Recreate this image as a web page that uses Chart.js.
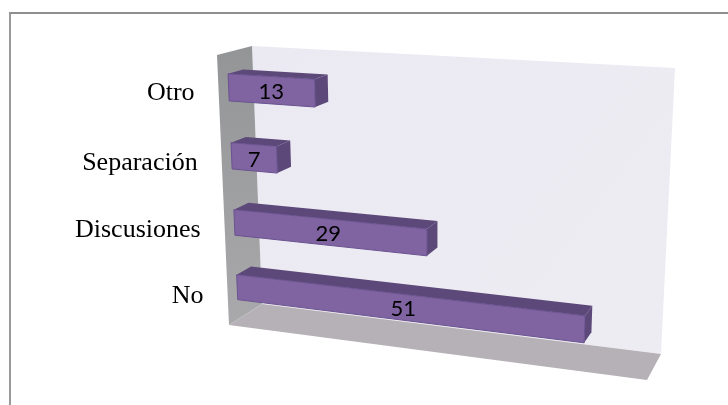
<!DOCTYPE html>
<html>
<head>
<meta charset="utf-8">
<style>
    html, body { margin: 0; padding: 0; background: #fff; overflow: hidden; }
    #frame { position: absolute; left: 9px; top: 12px; right: 0; bottom: 0; border-top: 2px solid #8f8f8f; border-left: 2px solid #9a9a9a; }
    #chart { position: absolute; left: 0; top: 0; }
</style>
<script src="https://cdn.jsdelivr.net/npm/chart.js@4/dist/chart.umd.min.js"></script>
</head>
<body>
<div id="frame"></div>
<canvas id="chart" width="728" height="405"></canvas>
<script>
'use strict'

const categories = ["Otro", "Separación", "Discusiones", "No"];
const values = [13, 7, 29, 51];
const axisMax = 60;

// corners of the 3D box on screen: top left, top right, bottom right, bottom left
const frontCorners = [[217, 55], [661, 82], [647, 380], [229, 325]];
const backCorners = [[252, 46], [675, 68], [661, 354], [262, 304]];
const barFrontDepth = 0.29;
const barBackDepth = 0.72;

// maps the unit square to a quad
function squareToQuad(q) {
    const [[x0, y0], [x1, y1], [x2, y2], [x3, y3]] = q;
    const dx1 = x1 - x2, dx2 = x3 - x2, sx = x0 - x1 + x2 - x3;
    const dy1 = y1 - y2, dy2 = y3 - y2, sy = y0 - y1 + y2 - y3;
    const den = dx1 * dy2 - dx2 * dy1;
    const g = (sx * dy2 - dx2 * sy) / den;
    const h = (dx1 * sy - sx * dy1) / den;
    const a = x1 - x0 + g * x1, b = x3 - x0 + h * x3;
    const d = y1 - y0 + g * y1, e = y3 - y0 + h * y3;
    return (u, v) => {
        const w = g * u + h * v + 1;
        return [(a * u + b * v + x0) / w, (d * u + e * v + y0) / w];
    };
}

// project a point of the flat chart area to the screen at a given depth
function project(area, px, py, depth) {
    const quad = frontCorners.map((p, i) => [
        p[0] + (backCorners[i][0] - p[0]) * depth,
        p[1] + (backCorners[i][1] - p[1]) * depth
    ]);
    return squareToQuad(quad)((px - area.left) / area.width, (py - area.top) / area.height);
}

function poly(ctx, points, fill, stroke) {
    ctx.beginPath();
    points.forEach((p, i) => i ? ctx.lineTo(p[0], p[1]) : ctx.moveTo(p[0], p[1]));
    ctx.closePath();
    ctx.fillStyle = fill;
    ctx.fill();
    if (stroke) {
        ctx.strokeStyle = stroke;
        ctx.lineWidth = 1;
        ctx.stroke();
    }
}

const box3d = {
    id: "box3d",
    beforeDatasetsDraw(chart) {
        const ctx = chart.ctx;
        const f = frontCorners, b = backCorners;

        const wall = ctx.createLinearGradient(252, 46, 661, 354);
        wall.addColorStop(0, "#ebe9f1");
        wall.addColorStop(1, "#eeecf3");
        poly(ctx, b, wall);

        const side = ctx.createLinearGradient(0, 50, 0, 325);
        side.addColorStop(0, "#949596");
        side.addColorStop(1, "#a9a9ab");
        poly(ctx, [f[0], b[0], b[3], f[3]], side);

        poly(ctx, [f[3], b[3], b[2], f[2]], "#b5b1b6");
    },
    beforeDatasetDraw(chart, args) {
        const ctx = chart.ctx;
        const area = chart.chartArea;
        const ds = chart.data.datasets[args.index];

        args.meta.data.forEach((bar, i) => {
            const { x, y, base, height } = bar.getProps(["x", "y", "base", "height"], true);
            const top = y - height / 2, bottom = y + height / 2;
            const fl = (px, py) => project(area, px, py, barFrontDepth);
            const bk = (px, py) => project(area, px, py, barBackDepth);

            poly(ctx, [fl(base, top), bk(base, top), bk(x, top), fl(x, top)], ds.sideColor);
            poly(ctx, [fl(x, top), bk(x, top), bk(x, bottom), fl(x, bottom)], ds.sideColor);
            poly(ctx, [fl(base, top), fl(x, top), fl(x, bottom), fl(base, bottom)], ds.backgroundColor, ds.borderColor);

            const c = fl((base + x) / 2, y);
            ctx.fillStyle = "#000";
            ctx.font = "22px Lato";
            ctx.textAlign = "center";
            ctx.textBaseline = "middle";
            ctx.fillText(values[i], c[0], c[1] + 2);
        });
        return false;
    },
    afterDatasetsDraw(chart) {
        const ctx = chart.ctx;
        const area = chart.chartArea;
        const yScale = chart.scales.y;

        ctx.fillStyle = "#000";
        ctx.font = "26px 'Liberation Serif'";
        ctx.textAlign = "right";
        ctx.textBaseline = "alphabetic";
        categories.forEach((name, i) => {
            const p = project(area, area.left, yScale.getPixelForValue(i), 0);
            ctx.fillText(name, p[0] - 24, p[1] + 10);
        });
    }
};

new Chart(document.getElementById("chart"), {
    type: "bar",
    data: {
        labels: categories,
        datasets: [{
            data: values,
            backgroundColor: "#8064a2",
            borderColor: "#6a5290",
            sideColor: "#5d4979",
            barPercentage: 0.39,
            categoryPercentage: 1
        }]
    },
    options: {
        indexAxis: "y",
        responsive: false,
        animation: false,
        layout: { padding: { left: 220, top: 50, right: 70, bottom: 50 } },
        plugins: { legend: { display: false }, tooltip: { enabled: false } },
        scales: {
            x: { display: false, min: 0, max: axisMax },
            y: { display: false }
        }
    },
    plugins: [box3d]
});
</script>
</body>
</html>
